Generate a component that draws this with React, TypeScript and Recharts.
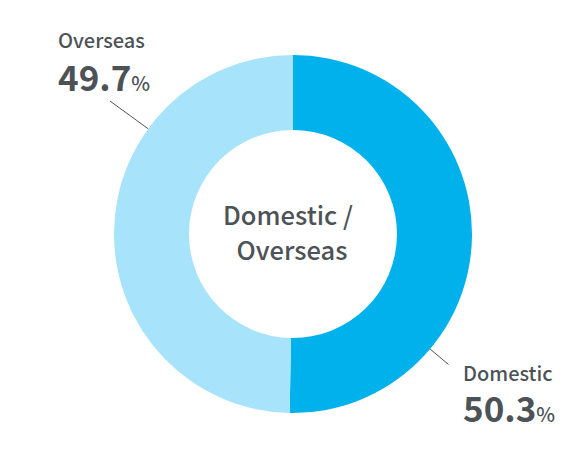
import React from "react";
import { PieChart, Pie, Cell } from "recharts";

const categories = ["Domestic", "Overseas"];
const shares = [50.3, 49.7];
const colors = ["#00b1ec", "#a7e3fa"];
const centerLines = ["Domestic /", "Overseas"];

const data = categories.map((name, i) => ({ name, value: shares[i] }));

const TEXT = "#4d5257";
const FONT = "'Noto Sans CJK JP', 'Noto Sans', sans-serif";

const RAD = Math.PI / 180;
const polar = (cx: number, cy: number, r: number, deg: number) => ({
  x: cx + r * Math.cos(-deg * RAD),
  y: cy + r * Math.sin(-deg * RAD),
});

const layout: Record<string, any> = {
  Overseas: { angle: 144, len: 47, tx: -235, ty1: -186, ty2: -143 },
  Domestic: { angle: 320, len: 24, tx: 170, ty1: 147, ty2: 188 },
};

const renderLabel = (props: any) => {
  const { cx, cy, outerRadius, name, value } = props;
  const l = layout[name];
  if (!l) return null;
  const p1 = polar(cx, cy, outerRadius, l.angle);
  const p2 = polar(cx, cy, outerRadius + l.len, l.angle);
  const v = Number(value).toFixed(1);
  return (
    <g>
      <line x1={p1.x} y1={p1.y} x2={p2.x} y2={p2.y} stroke="#555" strokeWidth={1} />
      <text x={cx + l.tx} y={cy + l.ty1} fill={TEXT} fontFamily={FONT} fontSize={20} fontWeight={500}>
        {name}
      </text>
      <text x={cx + l.tx} y={cy + l.ty2} fill={TEXT} fontFamily={FONT}>
        <tspan fontSize={35} fontWeight={700}>{v}</tspan>
        <tspan fontSize={20} fontWeight={500}>%</tspan>
      </text>
    </g>
  );
};

export default function App() {
  const cx = 293;
  const cy = 234;
  return (
    <div style={{ position: "absolute", left: 0, top: 0 }}>
      <PieChart width={585} height={460} margin={{ top: 0, right: 0, bottom: 0, left: 0 }}>
        <Pie
          data={data}
          dataKey="value"
          nameKey="name"
          cx={cx}
          cy={cy}
          innerRadius={104}
          outerRadius={179}
          startAngle={90}
          endAngle={-270}
          stroke="none"
          isAnimationActive={false}
          label={renderLabel}
          labelLine={false}
        >
          {data.map((d, i) => (
            <Cell key={d.name} fill={colors[i]} />
          ))}
        </Pie>
        <text x={cx - 5} y={cy - 9} textAnchor="middle" fill={TEXT} fontFamily={FONT} fontSize={25.5} fontWeight={500}>
          {centerLines[0]}
        </text>
        <text x={cx - 1} y={cy + 26} textAnchor="middle" fill={TEXT} fontFamily={FONT} fontSize={25.5} fontWeight={500}>
          {centerLines[1]}
        </text>
      </PieChart>
    </div>
  );
}
